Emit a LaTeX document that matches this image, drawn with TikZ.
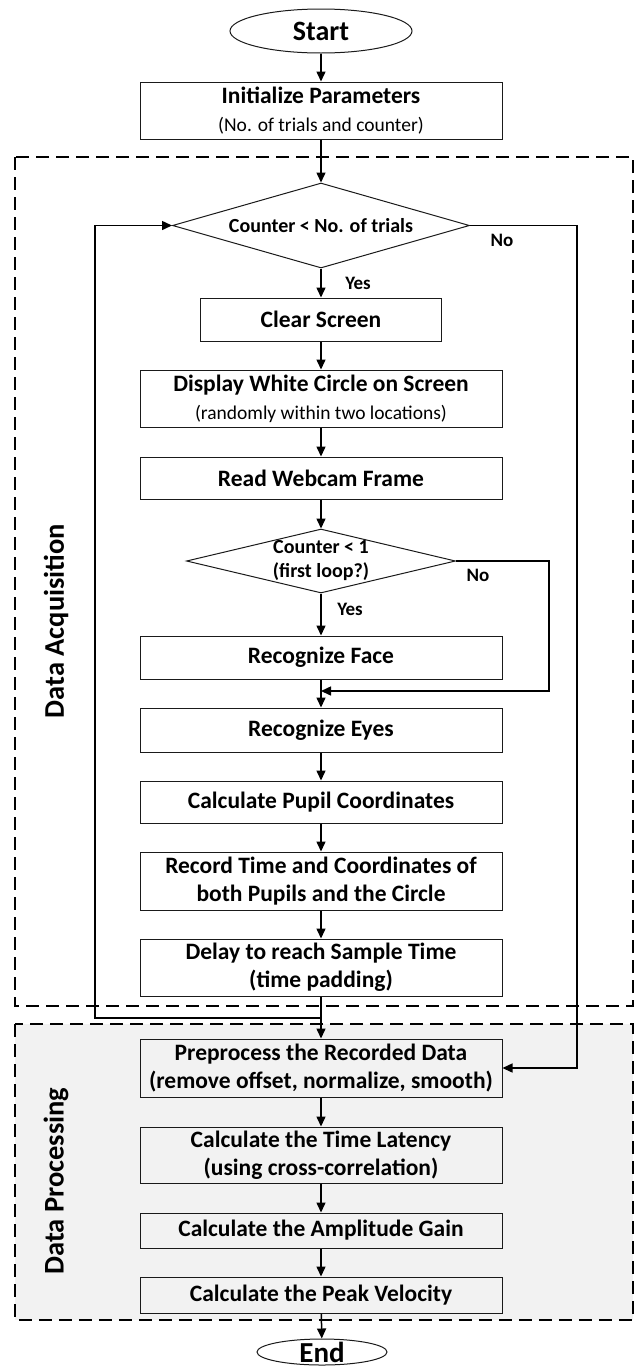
\documentclass[tikz,border=0pt]{standalone}
\usepackage{fontspec}
\setmainfont{Carlito}
\usetikzlibrary{shapes.geometric,arrows.meta,positioning}
\definecolor{procbg}{HTML}{F2F2F2}
\definecolor{edgeclr}{HTML}{1A1A1A}
\newcommand{\subtxt}[1]{{\mdseries\fontsize{19.5}{28}\selectfont #1}}

\tikzset{
  procbox/.style={draw=edgeclr, line width=1pt, minimum width=362pt, align=center, inner sep=2pt, font=\fontsize{23.5}{28}\selectfont\bfseries},
  decision/.style={diamond, draw=edgeclr, line width=1pt, inner sep=-6pt, align=center, font=\fontsize{20}{24}\selectfont\bfseries},
  terminal/.style={ellipse, draw=edgeclr, line width=1pt, inner sep=-8pt, font=\fontsize{28}{28}\selectfont\bfseries},
  flow/.style={line width=1.5pt, -{Triangle[length=10pt,width=9pt]}},
  branch/.style={font=\fontsize{19}{19}\selectfont\bfseries},
  phase/.style={line width=2pt, dash pattern=on 13pt off 7pt},
  phaselabel/.style={rotate=90, font=\fontsize{28.5}{28}\selectfont\bfseries}
}

\begin{document}
\begin{tikzpicture}[x=1pt, y=-1pt]
  \path[use as bounding box, fill=white] (0,0) rectangle (634,1366);

  % Phase frames
  \draw[phase, fill=procbg] (15,1024) rectangle (633,1320);
  \draw[phase] (15,157) rectangle (633,1006);
  \node[phaselabel] (lblacq) at (56,621) {Data Acquisition};
  \node[phaselabel] (lblproc) at (56,1181) {Data Processing};

  % Acquisition steps
  \node[terminal, minimum width=182pt, minimum height=44pt] (start) at (321,31) {Start};
  \node[procbox, minimum height=57pt] (init) at (321,110.5) {Initialize Parameters\\\subtxt{(No. of trials and counter)}};
  \node[decision, minimum width=297pt, minimum height=85pt, aspect=3.5] (dec1) at (321,225.5) {Counter < No. of trials};
  \node[procbox, minimum width=241pt, minimum height=43pt] (clear) at (321,319.5) {Clear Screen};
  \node[procbox, minimum height=57pt] (display) at (321,398.5) {Display White Circle on Screen\\\subtxt{(randomly within two locations)}};
  \node[procbox, minimum height=42pt] (read) at (321,478) {Read Webcam Frame};
  \node[decision, minimum width=269pt, minimum height=64pt, aspect=4.2] (dec2) at (321,561) {Counter < 1\\(first loop?)};
  \node[procbox, minimum height=43pt] (face) at (321,657.5) {Recognize Face};
  \node[procbox, minimum height=44pt] (eyes) at (321,730) {Recognize Eyes};
  \node[procbox, minimum height=42pt] (pupil) at (321,802) {Calculate Pupil Coordinates};
  \node[procbox, minimum height=58pt] (record) at (321,881) {Record Time and Coordinates of\\both Pupils and the Circle};
  \node[procbox, minimum height=57pt] (delay) at (321,967.5) {Delay to reach Sample Time\\(time padding)};

  % Processing steps
  \node[procbox, minimum height=58pt] (prep) at (321,1068) {Preprocess the Recorded Data\\(remove offset, normalize, smooth)};
  \node[procbox, minimum height=56pt] (latency) at (321,1155) {Calculate the Time Latency\\(using cross-correlation)};
  \node[procbox, minimum height=35pt] (amp) at (321,1230.5) {Calculate the Amplitude Gain};
  \node[procbox, minimum height=36pt] (peak) at (321,1295) {Calculate the Peak Velocity};
  \node[terminal, minimum width=130pt, minimum height=26pt, font=\fontsize{29}{29}\selectfont\bfseries] (end) at (322,1352) {End};

  % Branch labels
  \node[branch] (no1) at (502,240) {No};
  \node[branch] (yes1) at (358,283) {Yes};
  \node[branch] (no2) at (478,575) {No};
  \node[branch] (yes2) at (350,609) {Yes};

  % Main flow
  \foreach \a/\b in {start/init, init/dec1, dec1/clear, clear/display, display/read, read/dec2,
                     dec2/face, face/eyes, eyes/pupil, pupil/record, record/delay, delay/prep,
                     prep/latency, latency/amp, amp/peak, peak/end}
    \draw[flow] (\a) -- (\b);

  % Side paths
  \coordinate (merge) at (321,691);
  \coordinate (loopstart) at (321,1018);
  \draw[flow] (dec2.east) -- ++(93,0) |- (merge);
  \draw[flow] (dec1.east) -- ++(107,0) |- (prep.east);
  \draw[flow] (loopstart) -- ++(-226,0) |- (dec1.west);
\end{tikzpicture}
\end{document}
